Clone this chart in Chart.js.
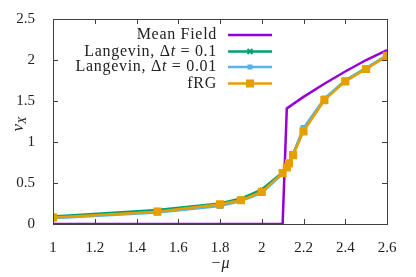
<!DOCTYPE html>
<html>
<head>
<meta charset="utf-8">
<script src="https://cdn.jsdelivr.net/npm/chart.js@4.4.1/dist/chart.umd.min.js"></script>
<style>
  html, body { margin: 0; padding: 0; background: #fff; }
  #wrap { width: 416px; height: 277px; }
</style>
</head>
<body>
<div id="wrap"><canvas id="myChart" width="416" height="277"></canvas></div>
<script>
// values
let muMF = [1, 2.1, 2.12, 2.2, 2.3, 2.4, 2.5, 2.6];
let nuMF = [0, 0, 1.41, 1.55, 1.71, 1.86, 2.0, 2.12];

let muPts = [1, 1.5, 1.8, 1.9, 2.0, 2.1, 2.12, 2.13, 2.15, 2.2, 2.3, 2.4, 2.5, 2.6];
let nuLang1 = [0.09, 0.17, 0.25, 0.31, 0.42, 0.63, 0.70, 0.75, 0.85, 1.15, 1.52, 1.75, 1.90, 2.05];
let nuLang01 = [0.07, 0.14, 0.22, 0.28, 0.38, 0.61, 0.69, 0.74, 0.85, 1.17, 1.53, 1.75, 1.90, 2.06];
let nuFRG = [0.08, 0.15, 0.24, 0.29, 0.39, 0.62, 0.69, 0.74, 0.84, 1.13, 1.51, 1.74, 1.89, 2.05];

let xTicks = [1, 1.2, 1.4, 1.6, 1.8, 2, 2.2, 2.4, 2.6];
let yTicks = [0, 0.5, 1, 1.5, 2, 2.5];

let serif = "'Liberation Serif', 'DejaVu Serif', serif";

function pairs(xs, ys) {
    return xs.map((x, i) => ({ x: x, y: ys[i] }));
}

// legend text pieces, [text, italic]
let legendParts = [
    [['Mean Field', false]],
    [['Langevin, Δ', false], ['t', true], [' = 0.1', false]],
    [['Langevin, Δ', false], ['t', true], [' = 0.01', false]],
    [['fRG', false]]
];

// gnuplot-like frame, inward ticks and legend
let framePlugin = {
    id: 'frame',
    afterDraw(chart) {
        let ctx = chart.ctx;
        let a = chart.chartArea;
        let xs = chart.scales.x, ys = chart.scales.y;
        ctx.save();
        ctx.strokeStyle = '#404040';
        ctx.lineWidth = 1;
        ctx.beginPath();
        xTicks.forEach(v => {
            let px = Math.round(xs.getPixelForValue(v)) + 0.5;
            ctx.moveTo(px, a.bottom); ctx.lineTo(px, a.bottom - 5);
            ctx.moveTo(px, a.top); ctx.lineTo(px, a.top + 5);
        });
        yTicks.forEach(v => {
            let py = Math.round(ys.getPixelForValue(v)) + 0.5;
            ctx.moveTo(a.left, py); ctx.lineTo(a.left + 5, py);
            ctx.moveTo(a.right, py); ctx.lineTo(a.right - 5, py);
        });
        ctx.stroke();
        ctx.strokeRect(Math.round(a.left) + 0.5, Math.round(a.top) + 0.5,
            Math.round(a.right - a.left), Math.round(a.bottom - a.top));

        // y axis title: nu_X
        ctx.fillStyle = '#222';
        ctx.translate(19, 124);
        ctx.rotate(-Math.PI / 2);
        ctx.textBaseline = 'middle';
        ctx.font = 'italic 17px ' + serif;
        ctx.textAlign = 'right';
        ctx.fillText('ν', 0, 0);
        ctx.font = 'italic 12px ' + serif;
        ctx.textAlign = 'left';
        ctx.fillText('X', 0, 4);
        ctx.setTransform(1, 0, 0, 1, 0, 0);

        // legend, text right aligned, sample to the right
        let rowY = [35, 51.5, 67, 83.5];
        ctx.textBaseline = 'middle';
        ctx.textAlign = 'left';
        ctx.letterSpacing = '0.7px';
        chart.data.datasets.forEach((ds, i) => {
            let y = rowY[i];
            let parts = legendParts[i];
            let fonts = parts.map(p => (p[1] ? 'italic ' : '') + '16px ' + serif);
            let w = 0;
            parts.forEach((p, k) => { ctx.font = fonts[k]; w += ctx.measureText(p[0]).width; });
            let x = 217 - w;
            ctx.fillStyle = '#222';
            parts.forEach((p, k) => {
                ctx.font = fonts[k];
                ctx.fillText(p[0], x, y);
                x += ctx.measureText(p[0]).width;
            });
            ctx.strokeStyle = ds.borderColor;
            ctx.lineWidth = 2.5;
            ctx.beginPath();
            ctx.moveTo(228, y); ctx.lineTo(272, y);
            ctx.stroke();
            if (ds.pointRadius > 0) {
                ctx.fillStyle = ds.borderColor;
                let r = ds.pointRadius;
                if (ds.pointStyle === 'crossRot') {
                    ctx.lineWidth = 2;
                    ctx.beginPath();
                    ctx.moveTo(250 - r, y - r); ctx.lineTo(250 + r, y + r);
                    ctx.moveTo(250 - r, y + r); ctx.lineTo(250 + r, y - r);
                    ctx.stroke();
                } else {
                    ctx.fillRect(250 - r, y - r, 2 * r, 2 * r);
                }
            }
        });
        ctx.restore();
    }
};

let myChart = new Chart(document.querySelector('#myChart').getContext('2d'), {
    type: 'line',
    data: {
        datasets: [{
            label: 'Mean Field',
            data: pairs(muMF, nuMF),
            borderColor: '#9400D3',
            borderWidth: 2.5,
            pointRadius: 0,
            tension: 0,
            order: 3
        }, {
            label: 'Langevin, Δt = 0.1',
            data: pairs(muPts, nuLang1),
            borderColor: '#009E73',
            backgroundColor: '#009E73',
            borderWidth: 2.5,
            pointStyle: 'crossRot',
            pointRadius: 2.5,
            pointBorderWidth: 2,
            tension: 0,
            order: 2
        }, {
            label: 'Langevin, Δt = 0.01',
            data: pairs(muPts, nuLang01),
            borderColor: '#56B4E9',
            backgroundColor: '#56B4E9',
            borderWidth: 2.5,
            pointStyle: 'rect',
            pointRadius: 2.5,
            tension: 0,
            order: 1
        }, {
            label: 'fRG',
            data: pairs(muPts, nuFRG),
            borderColor: '#E69F00',
            backgroundColor: '#E69F00',
            borderWidth: 2.5,
            pointStyle: 'rect',
            pointRadius: 4,
            tension: 0,
            order: 0
        }]
    },
    options: {
        responsive: false,
        animation: false,
        layout: { padding: { top: 19, right: 29, left: 0, bottom: 0 } },
        plugins: {
            legend: { display: false },
            tooltip: { enabled: false }
        },
        scales: {
            x: {
                type: 'linear',
                min: 1, max: 2.6,
                afterBuildTicks: s => { s.ticks = xTicks.map(v => ({ value: v })); },
                afterFit: s => { s.height = 53; },
                grid: { display: false },
                border: { display: false },
                ticks: {
                    color: '#222',
                    font: { family: serif, size: 15 },
                    padding: 7,
                    maxRotation: 0,
                    callback: v => String(Math.round(v * 10) / 10)
                },
                title: {
                    display: true,
                    text: '−μ',
                    color: '#222',
                    font: { family: serif, size: 16, style: 'italic' },
                    padding: { top: 2 }
                }
            },
            y: {
                min: 0, max: 2.5,
                afterBuildTicks: s => { s.ticks = yTicks.map(v => ({ value: v })); },
                afterFit: s => { s.width = 53; },
                grid: { display: false },
                border: { display: false },
                ticks: {
                    color: '#222',
                    font: { family: serif, size: 15 },
                    padding: 10,
                    callback: v => String(v)
                }
            }
        }
    },
    plugins: [framePlugin]
});
</script>
</body>
</html>
